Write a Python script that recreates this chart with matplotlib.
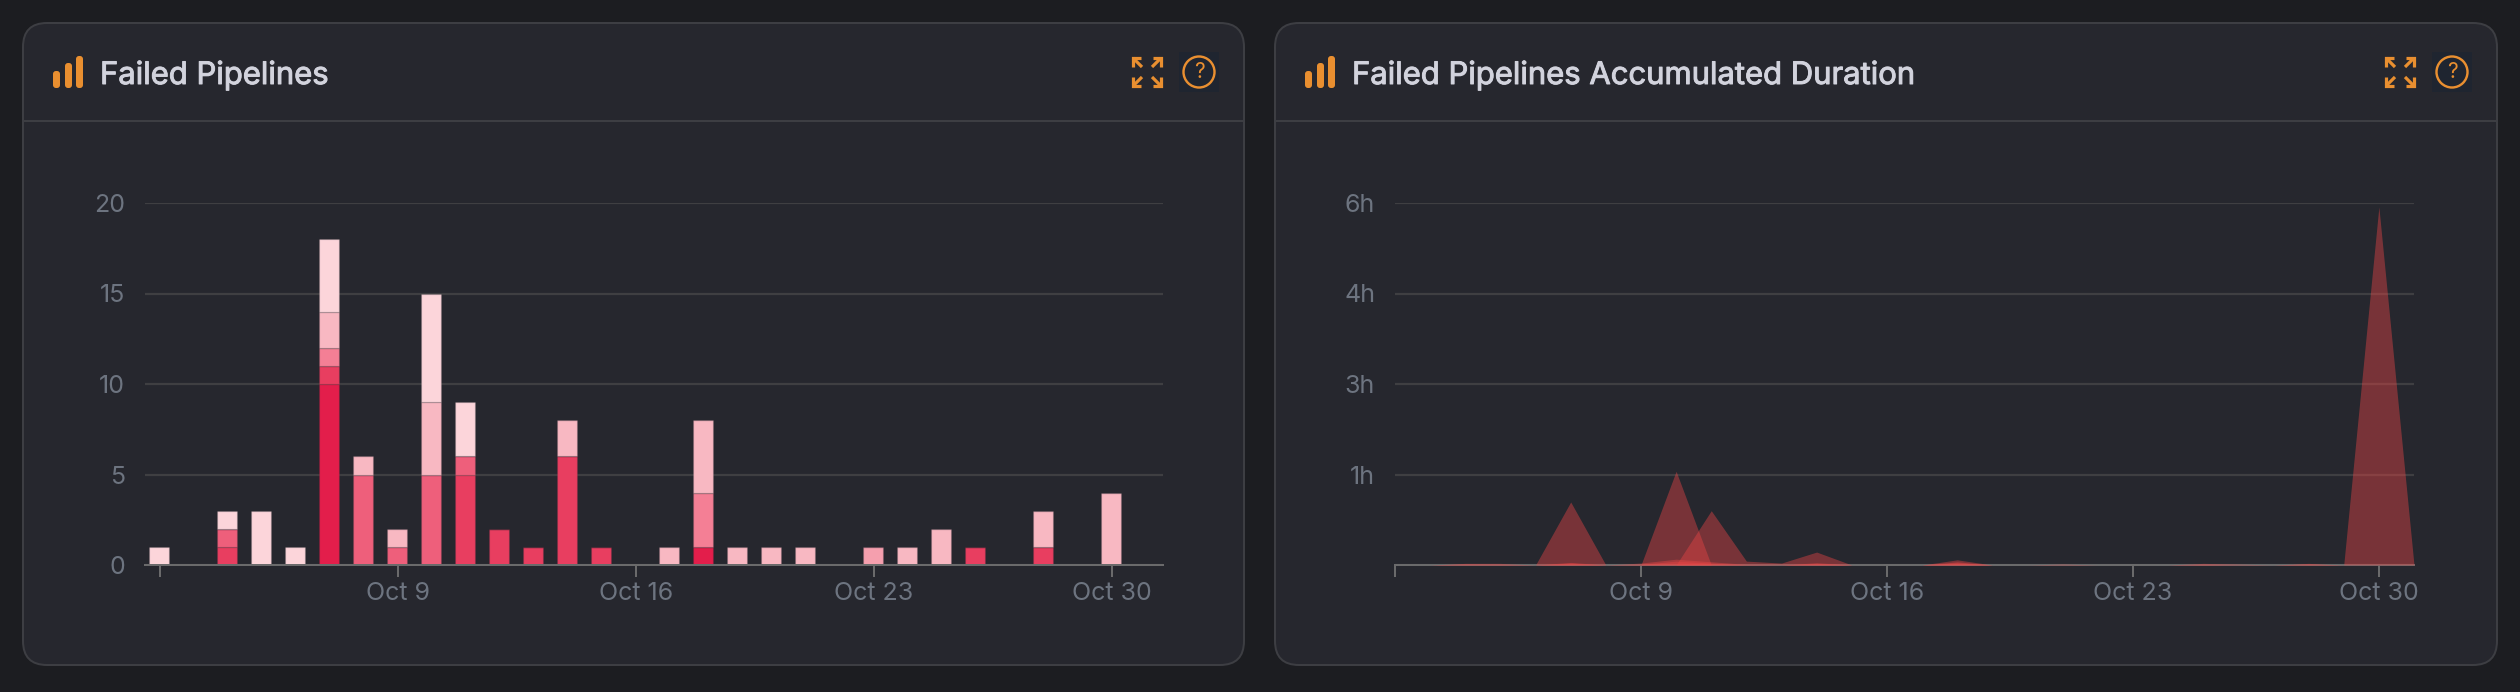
# plot.py - two dark dashboard panels

import matplotlib
matplotlib.use('Agg')
import matplotlib.pyplot as plt
import matplotlib.patheffects as pe
from matplotlib.patches import FancyBboxPatch, Rectangle, Circle

plt.rcParams['font.family'] = ['Inter', 'DejaVu Sans']

days = list(range(2, 31))
bars_1 = [0, 0, 0, 0, 0, 10, 0, 0, 0, 0, 0, 0, 0, 0, 0, 0, 1, 0, 0, 0, 0, 0, 0, 0, 0, 0, 0, 0, 0]
bars_2 = [0, 0, 1, 0, 0, 1, 0, 0, 0, 5, 2, 1, 6, 1, 0, 0, 0, 0, 0, 0, 0, 0, 0, 0, 1, 0, 1, 0, 0]
bars_3 = [0, 0, 1, 0, 0, 0, 5, 1, 5, 1, 0, 0, 0, 0, 0, 0, 0, 0, 0, 0, 0, 0, 0, 0, 0, 0, 0, 0, 0]
bars_4 = [0, 0, 0, 0, 0, 1, 0, 0, 0, 0, 0, 0, 0, 0, 0, 0, 3, 0, 0, 0, 0, 0, 0, 0, 0, 0, 0, 0, 0]
bars_5 = [0, 0, 0, 0, 0, 0, 0, 0, 0, 0, 0, 0, 0, 0, 0, 0, 0, 0, 0, 0, 0, 1, 0, 0, 0, 0, 0, 0, 0]
bars_6 = [0, 0, 0, 0, 0, 2, 1, 1, 4, 0, 0, 0, 2, 0, 0, 1, 4, 1, 1, 1, 0, 0, 1, 2, 0, 0, 2, 0, 4]
bars_7 = [1, 0, 1, 3, 1, 4, 0, 0, 6, 3, 0, 0, 0, 0, 0, 0, 0, 0, 0, 0, 0, 0, 0, 0, 0, 0, 0, 0, 0]
bar_series = [bars_1, bars_2, bars_3, bars_4, bars_5, bars_6, bars_7]
bar_colors = ['#e31e4b', '#e83e60', '#ee5f7b', '#f47f95', '#f59fae', '#f8b8c2', '#fcd5da']

area_days = list(range(2, 32))
hours_a = [0, 0, 0, 0, 0, 0.975, 0, 0, 1.45, 0, 0, 0, 0, 0, 0, 0, 0, 0, 0, 0, 0, 0, 0, 0, 0, 0, 0, 0, 5.54, 0]
hours_b = [0, 0, 0, 0, 0, 0, 0, 0, 0, 0.84, 0.06, 0.03, 0.2, 0, 0, 0, 0.08, 0, 0, 0, 0, 0, 0, 0, 0, 0, 0, 0, 0, 0]
hours_c = [0, 0, 0.025, 0.025, 0, 0.04, 0, 0.03, 0.09, 0.05, 0.01, 0, 0.035, 0, 0, 0, 0.05, 0, 0, 0.015, 0, 0, 0, 0.025, 0.015, 0, 0.025, 0, 0, 0]
hours_d = [0, 0, 0.015, 0.01, 0, 0.03, 0, 0.01, 0.06, 0.03, 0, 0, 0.025, 0, 0, 0, 0.035, 0, 0, 0, 0, 0, 0, 0.01, 0, 0, 0.015, 0, 0, 0]

week_ticks = [2, 9, 16, 23, 30]
week_labels = ['', 'Oct 9', 'Oct 16', 'Oct 23', 'Oct 30']
count_ticks = [0, 5, 10, 15, 20]
hour_ticks = [0, 1.4, 2.8, 4.2, 5.6]

W, H = 2520, 692
BG = '#1c1d21'
PANEL = '#26272e'
BORDER = '#3d3e43'
GRID = '#3f3f42'
AXIS = '#6a6a6b'
TICK_TEXT = '#6d7480'
TITLE = '#d2d3dd'
ORANGE = '#e98f30'
px = 72 / 100  # one pixel in points

fig = plt.figure(figsize=(W / 100, H / 100), dpi=100, facecolor=BG)
bg = fig.add_axes([0, 0, 1, 1])
bg.set_xlim(0, W)
bg.set_ylim(H, 0)
bg.axis('off')


def draw_icon_line(xs, ys, lw=3.2):
    bg.plot(xs, ys, color=ORANGE, lw=lw * px, solid_capstyle='butt', solid_joinstyle='miter')


def draw_panel(x0, x1, title):
    bg.add_patch(FancyBboxPatch((x0, 23), x1 - x0, 642, boxstyle='round,pad=0,rounding_size=24',
                                fc=PANEL, ec=BORDER, lw=2 * px))
    bg.plot([x0, x1], [121, 121], color=BORDER, lw=2 * px)

    # bars icon
    for bx, top in zip([53, 65, 76], [71, 63, 56]):
        bg.add_patch(FancyBboxPatch((x0 - 23 + bx, top), 7, 88 - top,
                                    boxstyle='round,pad=0,rounding_size=3', fc=ORANGE, ec='none'))
    title_text = bg.text(x0 + 77, 84, title, color=TITLE, fontsize=31 * px, ha='left', va='baseline')
    title_text.set_path_effects([pe.withStroke(linewidth=0.7, foreground=TITLE)])

    # expand icon
    cx, cy = x1 - 97, 72
    for sx in (-1, 1):
        for sy in (-1, 1):
            draw_icon_line([cx + sx * 14, cx + sx * 5], [cy + sy * 14, cy + sy * 5])
            draw_icon_line([cx + sx * 14, cx + sx * 14, cx + sx * 6],
                           [cy + sy * 5, cy + sy * 14, cy + sy * 14])

    # help icon
    cx = x1 - 45
    bg.add_patch(Rectangle((cx - 20, cy - 20), 40, 40, fc='#1f2530', ec='none'))
    bg.add_patch(Circle((cx, cy), 15.5, fc='none', ec=ORANGE, lw=2.4 * px))
    bg.text(cx, cy + 0.5, '?', color=ORANGE, fontsize=21 * px, ha='center', va='center')


draw_panel(23, 1244, 'Failed Pipelines')
draw_panel(1275, 2497, 'Failed Pipelines Accumulated Duration')


def make_axes(x0, x1, y0, y1):
    ax = fig.add_axes([x0 / W, 1 - y1 / H, (x1 - x0) / W, (y1 - y0) / H])
    ax.patch.set_alpha(0)
    for side in ('top', 'right', 'left'):
        ax.spines[side].set_visible(False)
    ax.spines['bottom'].set_color(AXIS)
    ax.spines['bottom'].set_linewidth(2 * px)
    ax.set_axisbelow(True)
    ax.grid(True, axis='y', color=GRID, lw=2.2 * px)
    ax.tick_params(axis='y', length=0, pad=20 * px, labelsize=25 * px, labelcolor=TICK_TEXT)
    ax.tick_params(axis='x', length=12 * px, width=2 * px, color=AXIS, pad=5 * px,
                   labelsize=25 * px, labelcolor=TICK_TEXT)
    return ax


# left chart, stacked bars
ax1 = make_axes(145, 1163, 203, 565)
bottom = [0] * len(days)
for vals, col in zip(bar_series, bar_colors):
    ax1.bar([d - 0.03 for d in days], vals, width=20 / 34, bottom=bottom, color=col,
            edgecolor=(0.15, 0.16, 0.19, 0.12), linewidth=1.4 * px)
    bottom = [b + v for b, v in zip(bottom, vals)]
ax1.set_xlim(2 - 15 / 34, 2 + 1003 / 34)
ax1.set_ylim(0, 20)
ax1.set_yticks(count_ticks)
ax1.set_xticks(week_ticks)
ax1.set_xticklabels(week_labels)

# right chart, overlaid areas drawn over the axis line
ax2 = make_axes(1395, 2414, 203, 565)
for vals in [hours_a, hours_b, hours_c, hours_d]:
    ax2.fill_between(area_days, 0, vals, color='#ec4646', alpha=0.42, lw=0, zorder=3, clip_on=False)
ax2.set_xlim(2, 31)
ax2.set_ylim(0, 5.6)
ax2.set_yticks(hour_ticks)
ax2.set_yticklabels([f'{v:.0f}h' if v > 0 else '' for v in hour_ticks])
ax2.set_xticks(week_ticks)
ax2.set_xticklabels(week_labels)

fig.savefig('out.png', dpi=100, facecolor=BG)
